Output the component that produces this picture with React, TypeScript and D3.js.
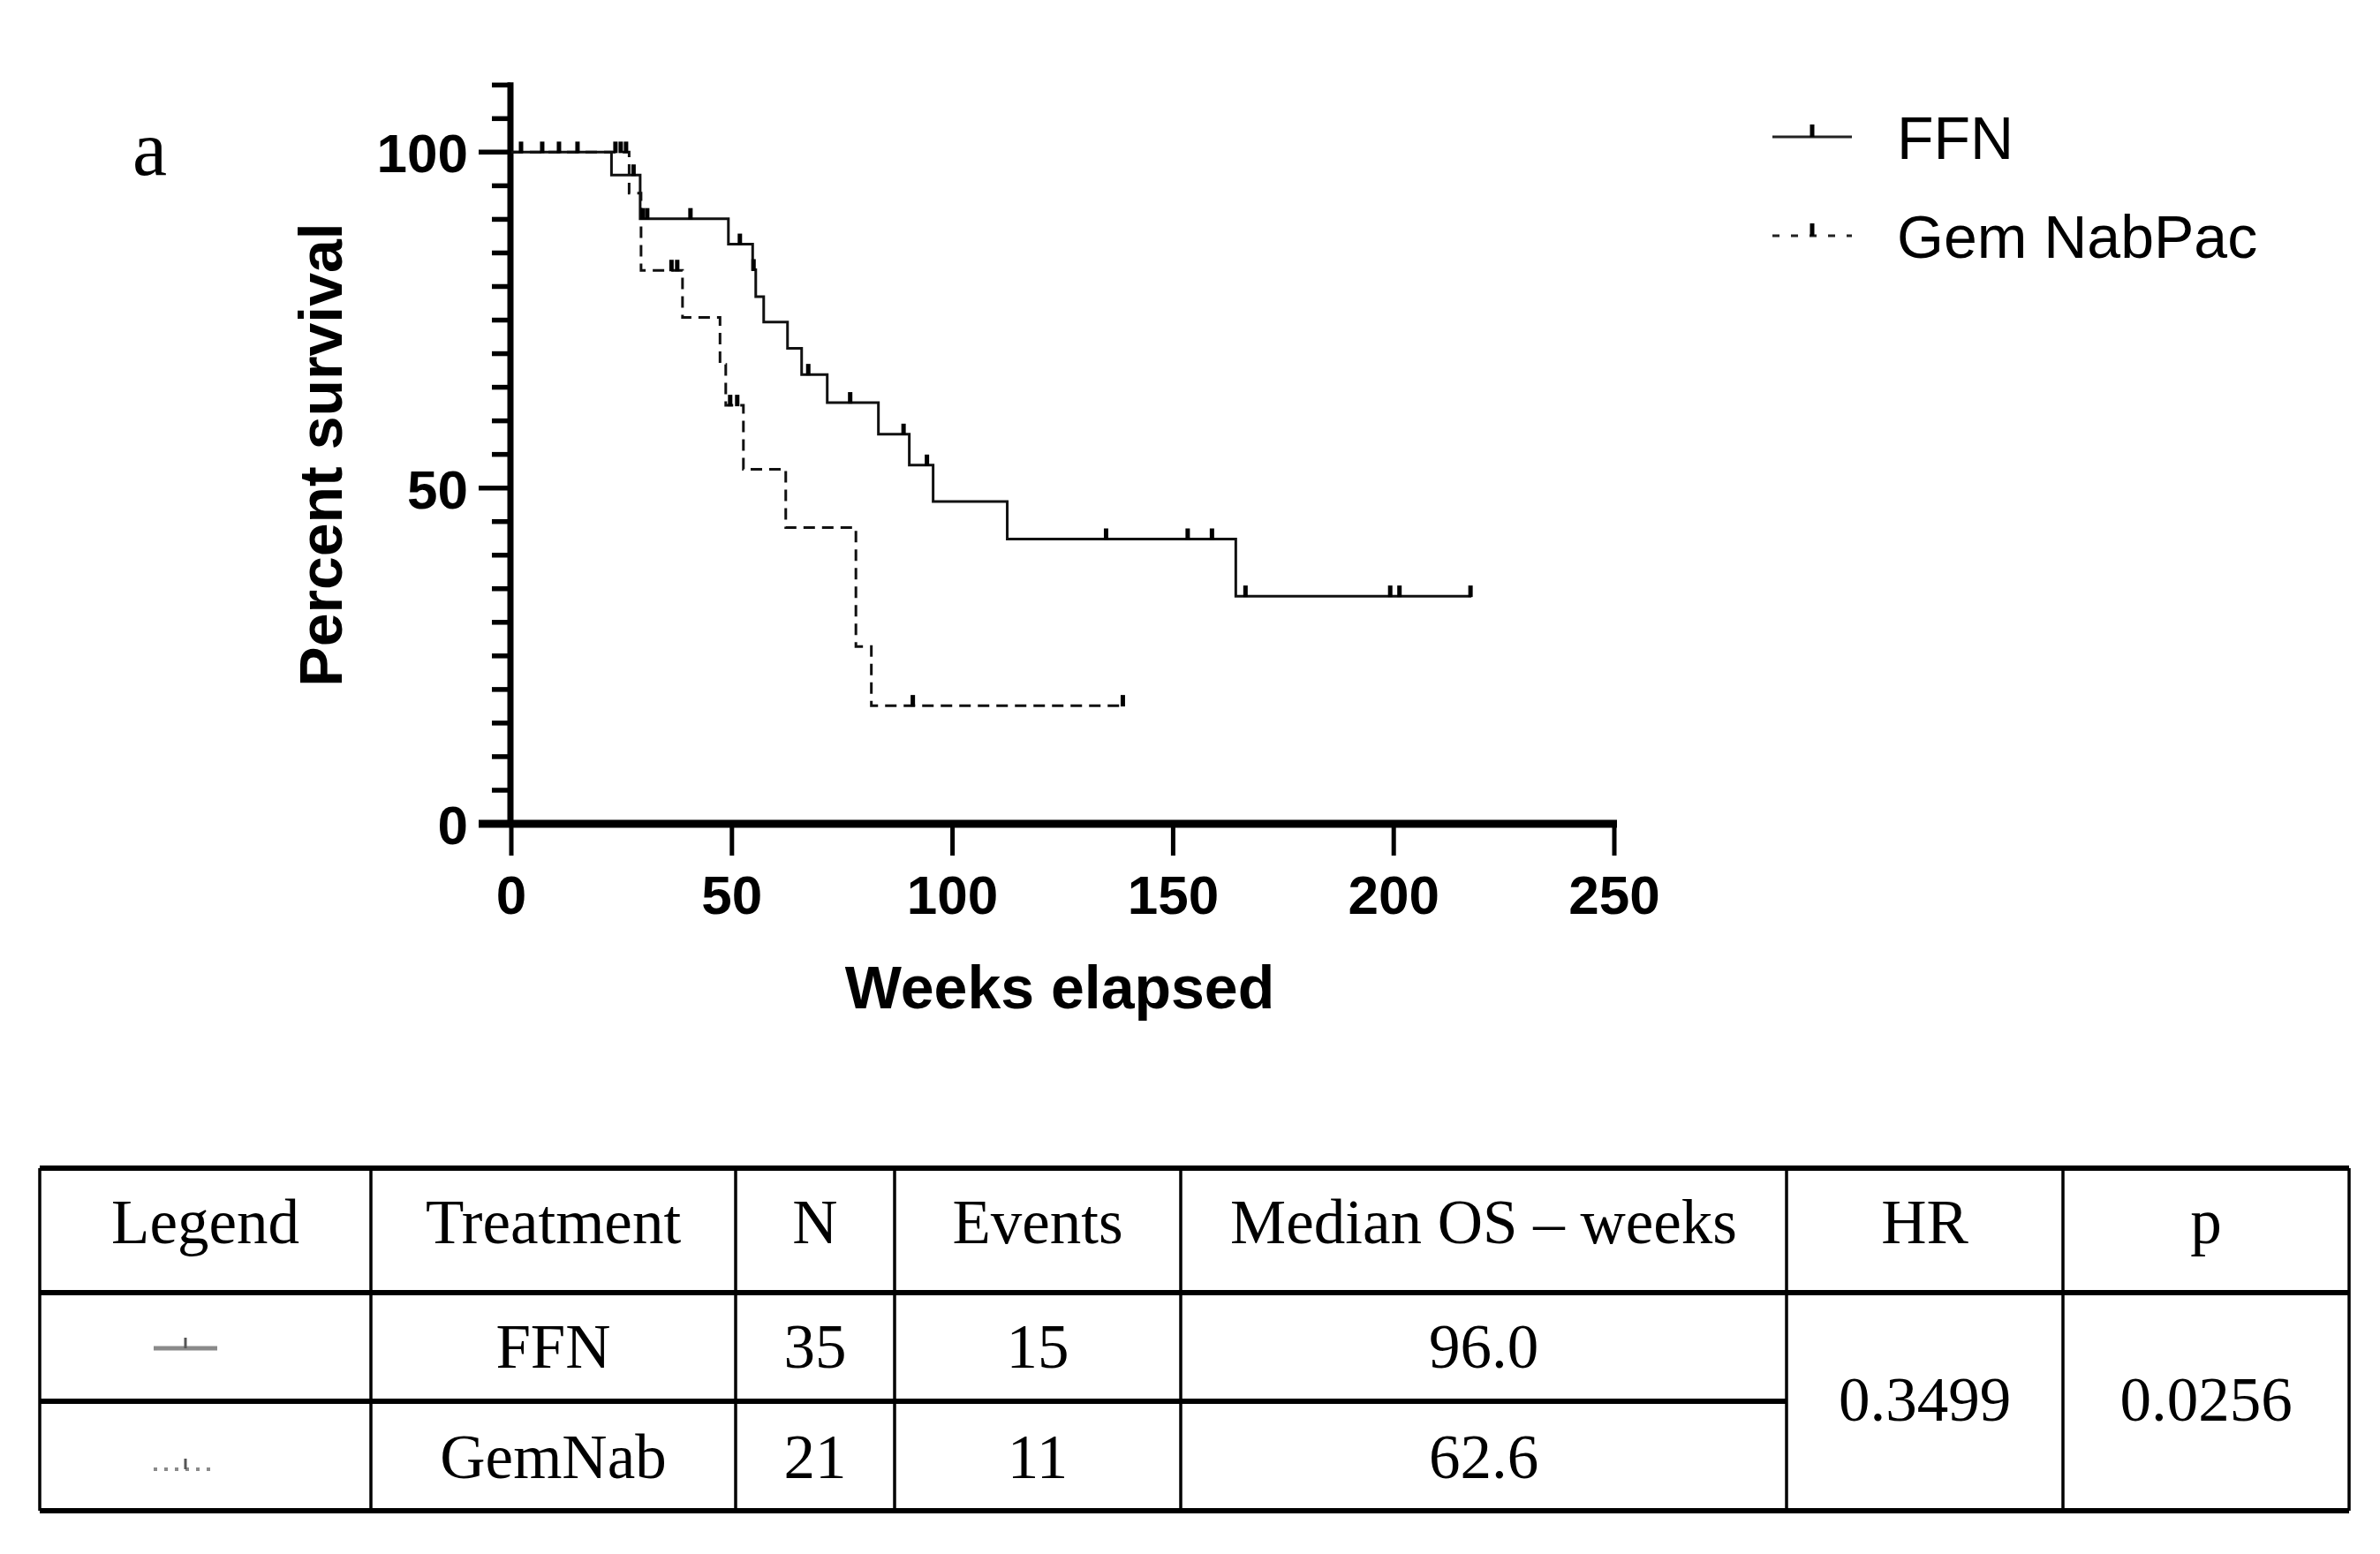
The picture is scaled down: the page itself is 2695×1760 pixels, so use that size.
import { useEffect, useRef } from 'react'
import * as d3 from 'd3'

// Kaplan–Meier curves: [weeks, percent survival after the step]
const ffnSteps: [number, number][] = [
  [0, 100], [22.7, 96.6], [29.2, 90.1], [49.2, 86.3], [54.7, 82.5], [55.4, 78.5],
  [57.2, 74.7], [62.6, 70.8], [65.8, 66.9], [71.6, 62.7], [83.2, 58.0], [90.2, 53.4],
  [95.6, 48.0], [112.4, 42.4], [164.2, 33.9], [217.6, 33.9]
]
const ffnCensored: [number, number][] = [
  [27.7, 96.6], [29.8, 90.1], [30.8, 90.1], [40.6, 90.1], [51.8, 86.3], [54.9, 82.5],
  [67.3, 66.9], [76.8, 62.7], [88.9, 58.0], [94.2, 53.4], [134.8, 42.4], [153.3, 42.4],
  [158.8, 42.4], [166.4, 33.9], [199.2, 33.9], [201.3, 33.9], [217.4, 33.9]
]
const gemSteps: [number, number][] = [
  [0, 100], [26.7, 93.9], [29.4, 82.4], [38.8, 75.4], [47.3, 68.4], [48.6, 62.3],
  [52.6, 52.8], [62.2, 44.1], [78.1, 26.4], [81.6, 17.6], [138.6, 17.6]
]
const gemCensored: [number, number][] = [
  [2.2, 100], [7.0, 100], [10.8, 100], [15.0, 100], [23.6, 100], [24.8, 100], [26.0, 100],
  [36.3, 82.4], [37.6, 82.4], [49.6, 62.3], [51.2, 62.3], [91.0, 17.6], [138.6, 17.6]
]

const weekTicks = [0, 50, 100, 150, 200, 250]
const percentTicks = [0, 50, 100]
const seriesNames = ['FFN', 'Gem NabPac']

// summary table
const tableHeaders = ['Legend', 'Treatment', 'N', 'Events', 'Median OS – weeks', 'HR', 'p']
const treatments = ['FFN', 'GemNab']
const patients = ['35', '21']
const events = ['15', '11']
const medianOS = ['96.0', '62.6']
const hazardRatio = '0.3499'
const pValue = '0.0256'

const W = 2695
const H = 1760
const SANS = '"Liberation Sans", Arial, Helvetica, sans-serif'
const SERIF = '"Palatino Linotype", Palatino, "Book Antiqua", "Liberation Serif", serif'

export default function App() {
  const svgRef = useRef<SVGSVGElement>(null)

  useEffect(() => {
    if (!svgRef.current) return
    const svg = d3.select(svgRef.current)
    svg.selectAll('*').remove()

    const x = d3.scaleLinear().domain([0, 250]).range([579, 1828])
    const y = d3.scaleLinear().domain([0, 110]).range([933, 96.3])
    const axisX = x(0) - 1

    // panel letter
    svg.append('text').attr('x', 150).attr('y', 198)
      .attr('font-family', SERIF).attr('font-size', 88).text('a')

    // y axis: minor ticks every 5, labels at 0/50/100
    const ticksG = svg.append('g')
    ticksG.selectAll('line.minor').data(d3.range(0, 111, 5)).join('line')
      .attr('x1', d => percentTicks.includes(d) ? axisX - 36 : axisX - 21)
      .attr('x2', axisX).attr('y1', d => y(d)).attr('y2', d => y(d))
      .attr('stroke', '#000').attr('stroke-width', 5.5)
    svg.append('line').attr('x1', axisX).attr('x2', axisX)
      .attr('y1', y(110) - 3).attr('y2', y(0))
      .attr('stroke', '#000').attr('stroke-width', 7)
    svg.append('g').selectAll('text').data(percentTicks).join('text')
      .attr('x', 530).attr('y', d => y(d) + 23).attr('text-anchor', 'end')
      .attr('font-family', SANS).attr('font-weight', 'bold').attr('font-size', 62)
      .text(d => d)

    // x axis
    svg.append('g').selectAll('line').data(weekTicks).join('line')
      .attr('x1', d => x(d)).attr('x2', d => x(d))
      .attr('y1', y(0)).attr('y2', y(0) + 36)
      .attr('stroke', '#000').attr('stroke-width', 5)
    svg.append('line').attr('x1', axisX - 36).attr('x2', x(250) + 3)
      .attr('y1', y(0)).attr('y2', y(0))
      .attr('stroke', '#000').attr('stroke-width', 9)
    svg.append('g').selectAll('text').data(weekTicks).join('text')
      .attr('x', d => x(d)).attr('y', 1035).attr('text-anchor', 'middle')
      .attr('font-family', SANS).attr('font-weight', 'bold').attr('font-size', 62)
      .text(d => d)

    svg.append('text').attr('x', 1200).attr('y', 1142).attr('text-anchor', 'middle')
      .attr('font-family', SANS).attr('font-weight', 'bold').attr('font-size', 68)
      .text('Weeks elapsed')
    svg.append('text').attr('transform', 'translate(387,515) rotate(-90)')
      .attr('text-anchor', 'middle')
      .attr('font-family', SANS).attr('font-weight', 'bold').attr('font-size', 68)
      .text('Percent survival')

    // curves
    const line = d3.line<[number, number]>()
      .x(d => x(d[0])).y(d => y(d[1]))
      .curve(d3.curveStepAfter)

    svg.append('path').attr('d', line(gemSteps)).attr('fill', 'none')
      .attr('stroke', '#111').attr('stroke-width', 3).attr('stroke-dasharray', '13,8')
    svg.append('path').attr('d', line(ffnSteps)).attr('fill', 'none')
      .attr('stroke', '#111').attr('stroke-width', 3)

    const censor = (data: [number, number][]) =>
      svg.append('g').selectAll('line').data(data).join('line')
        .attr('x1', d => x(d[0])).attr('x2', d => x(d[0]))
        .attr('y1', d => y(d[1]) + 1).attr('y2', d => y(d[1]) - 12)
        .attr('stroke', '#000').attr('stroke-width', 5)
    censor(gemCensored)
    censor(ffnCensored)

    // legend
    const lg = svg.append('g')
    const legendRows = [155, 267]
    seriesNames.forEach((name, i) => {
      const ly = legendRows[i]
      lg.append('line').attr('x1', 2007).attr('x2', 2097).attr('y1', ly).attr('y2', ly)
        .attr('stroke', '#222').attr('stroke-width', 3)
        .attr('stroke-dasharray', i === 1 ? '8,13' : null)
      lg.append('line').attr('x1', 2052).attr('x2', 2052).attr('y1', ly).attr('y2', ly - 14)
        .attr('stroke', '#000').attr('stroke-width', 5)
      lg.append('text').attr('x', 2148).attr('y', ly + 25)
        .attr('font-family', SANS).attr('font-size', 68).text(name)
    })

    // table
    const cols = [45, 420, 833, 1013, 1337, 2023, 2336, 2660]
    const rows = [1323, 1464, 1587, 1711]
    const colCenter = (c: number) => (cols[c] + cols[c + 1]) / 2
    const tg = svg.append('g')
    // vertical rules (HR / p cells span both body rows)
    cols.forEach(cx => {
      tg.append('line').attr('x1', cx).attr('x2', cx).attr('y1', rows[0]).attr('y2', rows[3])
        .attr('stroke', '#000').attr('stroke-width', 3.5)
    })
    ;[rows[0], rows[1], rows[3]].forEach(ry => {
      tg.append('line').attr('x1', cols[0]).attr('x2', cols[7]).attr('y1', ry).attr('y2', ry)
        .attr('stroke', '#000').attr('stroke-width', 6)
    })
    tg.append('line').attr('x1', cols[0]).attr('x2', cols[5]).attr('y1', rows[2]).attr('y2', rows[2])
      .attr('stroke', '#000').attr('stroke-width', 6)

    const cellText = (c: number, by: number, t: string) =>
      tg.append('text').attr('x', colCenter(c)).attr('y', by).attr('text-anchor', 'middle')
        .attr('font-family', SERIF).attr('font-size', 71).text(t)

    tableHeaders.forEach((h, c) => cellText(c, 1408, h))
    const bodyBase = [1549, 1674]
    treatments.forEach((t, r) => {
      cellText(1, bodyBase[r], t)
      cellText(2, bodyBase[r], patients[r])
      cellText(3, bodyBase[r], events[r])
      cellText(4, bodyBase[r], medianOS[r])
    })
    cellText(5, 1609, hazardRatio)
    cellText(6, 1609, pValue)

    // small line keys in the Legend column
    const keyY = [1527, 1664]
    keyY.forEach((ky, r) => {
      tg.append('line').attr('x1', 174).attr('x2', 246).attr('y1', ky).attr('y2', ky)
        .attr('stroke', '#8a8a8a').attr('stroke-width', r === 0 ? 5 : 4)
        .attr('stroke-dasharray', r === 1 ? '4,8' : null)
      tg.append('line').attr('x1', 210).attr('x2', 210).attr('y1', ky).attr('y2', ky - 12)
        .attr('stroke', '#555').attr('stroke-width', 3)
    })
  }, [])

  return (
    <svg
      ref={svgRef}
      width={W}
      height={H}
      viewBox={`0 0 ${W} ${H}`}
      style={{ position: 'absolute', left: 0, top: 0, background: '#fff', display: 'block' }}
    />
  )
}
